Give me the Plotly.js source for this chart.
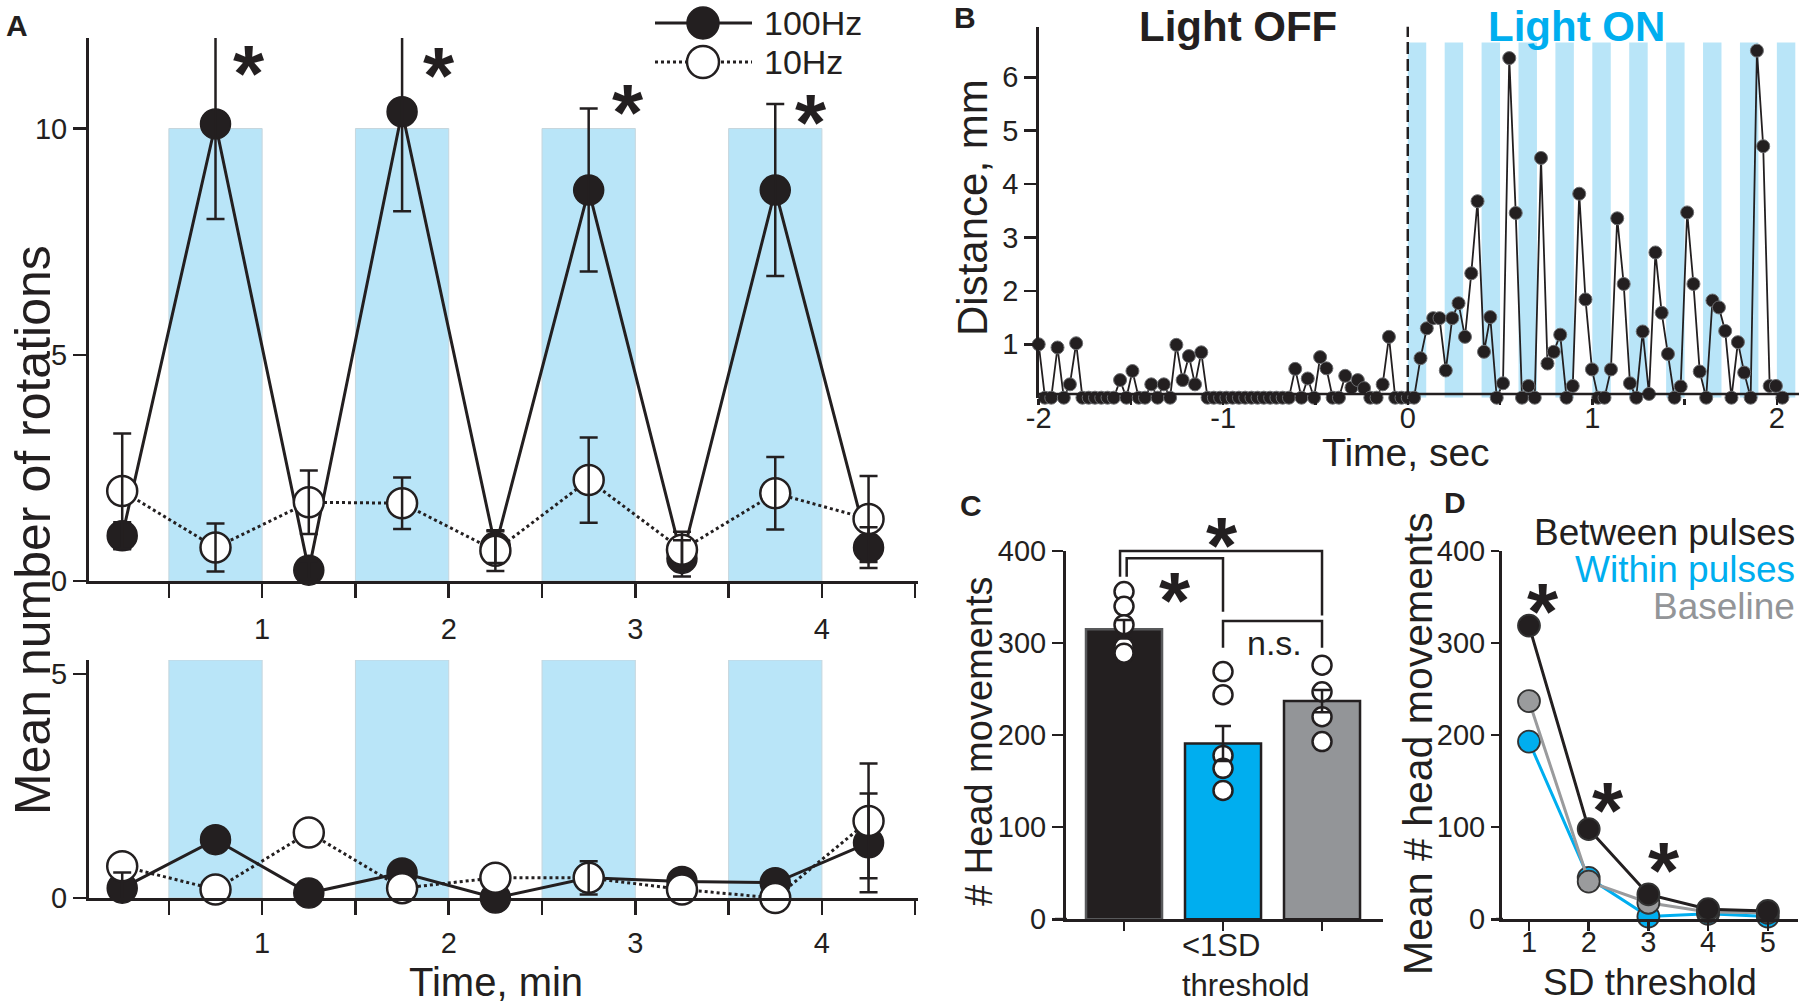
<!DOCTYPE html>
<html><head><meta charset="utf-8">
<script src="https://cdn.plot.ly/plotly-3.0.1.min.js"></script>
<style>html,body{margin:0;padding:0;background:#fff}#chart{width:1800px;height:1005px}</style>
</head><body><div id="chart"></div>
<script>
// ---------------- DATA ----------------
// Panel A: time bins (min)
const minutes = [0.25, 0.75, 1.25, 1.75, 2.25, 2.75, 3.25, 3.75, 4.25];
const minuteTicks = [0.5, 1, 1.5, 2, 2.5, 3, 3.5, 4, 4.5];
const minuteTickText = ['', '1', '', '2', '', '3', '', '4', ''];
// top: stimulation
const stim100 = [1.0, 10.1, 0.24, 10.37, 0.75, 8.64, 0.5, 8.64, 0.74];
const stim100Err = [0.3, 2.1, 0.2, 2.2, 0.35, 1.8, 0.4, 1.9, 0.45];
const stim10 = [1.99, 0.74, 1.74, 1.72, 0.67, 2.23, 0.69, 1.94, 1.37];
const stim10Err = [1.27, 0.53, 0.7, 0.57, 0.45, 0.94, 0.4, 0.8, 0.95];
// bottom: control (error bars hidden behind markers are left at 0)
const ctrl100 = [0.22, 1.3, 0.11, 0.56, 0, 0.45, 0.37, 0.34, 1.23];
const ctrl100Err = [0.35, 0, 0, 0, 0, 0, 0, 0, 1.1];
const ctrl10 = [0.71, 0.19, 1.46, 0.22, 0.45, 0.45, 0.19, 0, 1.72];
const ctrl10Err = [0, 0, 0, 0, 0, 0.37, 0, 0, 1.28];
// light periods (min)
const pulseStartsA = [0.5, 1.5, 2.5, 3.5];
const pulseLenA = 0.5;

// Panel B: head distance per video frame (sec, mm)
const bTimeOff = [-2.000,-1.966,-1.932,-1.898,-1.864,-1.831,-1.797,-1.763,-1.729,-1.695,
  -1.661,-1.627,-1.593,-1.559,-1.525,-1.492,-1.458,-1.424,-1.390,-1.356,
  -1.322,-1.288,-1.254,-1.220,-1.186,-1.153,-1.119,-1.085,-1.051,-1.017,
  -0.983,-0.949,-0.915,-0.881,-0.847,-0.814,-0.780,-0.746,-0.712,-0.678,
  -0.644,-0.610,-0.576,-0.542,-0.508,-0.475,-0.441,-0.407,-0.373,-0.339,
  -0.305,-0.271,-0.237,-0.203,-0.169,-0.136,-0.102,-0.068,-0.034,0.000];
const bDistOff = [1.0,0,0,0.94,0,0.25,1.02,0,0,0,
  0,0,0,0.33,0,0.5,0,0,0.25,0,
  0.25,0,0.99,0.33,0.78,0.25,0.85,0,0,0,
  0,0,0,0,0,0,0,0,0,0,
  0,0.54,0,0.36,0,0.76,0.55,0,0,0.41,
  0.19,0.33,0.18,0,0,0.25,1.14,0,0,0];
const bTimeOn = [0.034,0.069,0.103,0.138,0.172,0.206,0.241,0.275,0.310,0.344,
  0.378,0.413,0.447,0.482,0.516,0.550,0.585,0.619,0.654,0.688,
  0.722,0.757,0.791,0.826,0.860,0.894,0.929,0.963,0.998,1.032,
  1.066,1.101,1.135,1.170,1.204,1.238,1.273,1.307,1.342,1.376,
  1.410,1.445,1.479,1.514,1.548,1.582,1.617,1.651,1.686,1.720,
  1.754,1.789,1.823,1.858,1.892,1.926,1.961,1.995,2.030];
const bDistOn = [0,0.74,1.3,1.49,1.49,0.51,1.49,1.77,1.14,2.33,
  3.68,0.86,1.51,0,0.27,6.36,3.46,0,0.22,0,
  4.49,0.64,0.86,1.18,0,0.22,3.82,1.84,0.53,0,
  0,0.53,3.36,2.13,0.27,0,1.24,0.07,2.72,1.59,
  0.82,0,0.21,3.47,2.13,0.49,0,1.82,1.69,1.25,
  0,1.04,0.47,0,6.5,4.71,0.22,0.22,0];
const bTicks = [-2, -1.5, -1, -0.5, 0, 0.5, 1, 1.5, 2];
const bTickText = ['-2', '', '-1', '', '0', '', '1', '', '2'];
const pulseStartsB = [0, 0.2, 0.4, 0.6, 0.8, 1.0, 1.2, 1.4, 1.6, 1.8, 2.0];
const pulseLenB = 0.1;
const pulseTopB = 6.65;

// Panel C: <1SD threshold head movements
const cGroups = [0, 1, 2]; // Between pulses, Within pulses, Baseline
const cMeans = [315, 191, 237];
const cSem = [10, 19, 12];
const cDotsBetween = [356, 340, 320, 296, 289];
const cDotsWithin = [269, 244, 178, 164, 140];
const cDotsBaseline = [276, 247, 220, 193];

// Panel D: mean # head movements vs SD threshold
const sdThreshold = [1, 2, 3, 4, 5];
const dBetween = [319, 98, 27, 11, 9];
const dWithin = [193, 45, 3, 6, 3];
const dBaseline = [237, 41, 18, 8, 7];

// ---------------- STYLE ----------------
const FONT = 'Liberation Sans, Arial, Helvetica, sans-serif';
const INK = '#231f20';
const CYAN = '#00aeef';
const GREY = '#939598';
const PALE = '#b9e5f8';
const W = 1800, H = 1005;
const fx = v => v / W, fy = v => 1 - v / H;
// panel C/D vertical placement (px): value 0 at 919.3, 400 at 551
const C_Y0 = 919.3, C_PX = 368.3 / 400;
const yC = v => fy(C_Y0 - v * C_PX);

function axis(extra) {
  return Object.assign({
    showline: true, linecolor: INK, linewidth: 3, ticks: 'outside', tickcolor: INK,
    tickwidth: 2.5, showgrid: false, zeroline: false, fixedrange: true,
    tickfont: {family: FONT, size: 29, color: INK}
  }, extra);
}

const traces = [];
function lineMarkers(x, y, xa, ya, filled, dashed) {
  return {
    type: 'scatter', mode: 'lines+markers', x: x, y: y, xaxis: xa, yaxis: ya,
    line: {color: INK, width: 3, dash: dashed ? '3px,3px' : 'solid'},
    marker: {size: 30, color: filled ? INK : '#ffffff', line: {color: INK, width: filled ? 1.5 : 2.5}},
    cliponaxis: false, hoverinfo: 'skip'
  };
}
function errOnly(x, y, err, xa, ya, w) {
  const idx = err.map((e, i) => (e > 0 ? i : -1)).filter(i => i >= 0);
  return {
    type: 'scatter', mode: 'markers', x: idx.map(i => x[i]), y: idx.map(i => y[i]), xaxis: xa, yaxis: ya,
    marker: {size: 2, opacity: 0},
    error_y: {type: 'data', array: idx.map(i => err[i]), visible: true, color: INK, thickness: 2.5, width: w},
    cliponaxis: false, hoverinfo: 'skip'
  };
}
// A top
traces.push(lineMarkers(minutes, stim100, 'x', 'y', true, false));
traces.push(lineMarkers(minutes, stim10, 'x', 'y', false, true));
traces.push(errOnly(minutes, stim100, stim100Err, 'x', 'y', 9));
traces.push(errOnly(minutes, stim10, stim10Err, 'x', 'y', 9));
// A bottom
traces.push(lineMarkers(minutes, ctrl100, 'x2', 'y2', true, false));
traces.push(lineMarkers(minutes, ctrl10, 'x2', 'y2', false, true));
traces.push(errOnly(minutes, ctrl100, ctrl100Err, 'x2', 'y2', 9));
traces.push(errOnly(minutes, ctrl10, ctrl10Err, 'x2', 'y2', 9));
// B
traces.push({
  type: 'scatter', mode: 'lines+markers', x: bTimeOff.concat(bTimeOn), y: bDistOff.concat(bDistOn),
  xaxis: 'x3', yaxis: 'y3', line: {color: INK, width: 1.8},
  marker: {size: 13, color: INK, line: {color: '#6d6e71', width: 1}},
  cliponaxis: false, hoverinfo: 'skip'
});
// C
traces.push({
  type: 'bar', x: cGroups, y: cMeans, xaxis: 'x4', yaxis: 'y4', width: 0.768,
  marker: {color: [INK, CYAN, GREY], line: {color: ['#58595b', INK, INK], width: 2.5}},
  hoverinfo: 'skip'
});
[cDotsBetween, cDotsWithin, cDotsBaseline].forEach((arr, gi) => {
  traces.push({
    type: 'scatter', mode: 'markers', x: arr.map(() => cGroups[gi]), y: arr, xaxis: 'x4', yaxis: 'y4',
    marker: {size: 19, color: '#ffffff', line: {color: INK, width: 2.5}}, cliponaxis: false, hoverinfo: 'skip'
  });
});
traces.push(errOnly(cGroups, cMeans, cSem, 'x4', 'y4', 8));
// D
[[dWithin, CYAN], [dBaseline, '#9a9b9d'], [dBetween, INK]].forEach(([arr, col]) => {
  traces.push({
    type: 'scatter', mode: 'lines+markers', x: sdThreshold, y: arr, xaxis: 'x5', yaxis: 'y5',
    line: {color: col, width: 3}, marker: {size: 22, color: col, line: {color: '#333333', width: 1.8}},
    cliponaxis: false, hoverinfo: 'skip'
  });
});

// ---------------- SHAPES ----------------
const shapes = [];
pulseStartsA.forEach(p => {
  shapes.push({type: 'rect', xref: 'x', yref: 'y', x0: p, x1: p + pulseLenA, y0: 0, y1: 10,
    fillcolor: PALE, line: {color: '#c6d6dd', width: 1}, layer: 'below'});
  shapes.push({type: 'rect', xref: 'x2', yref: 'y2', x0: p, x1: p + pulseLenA, y0: 0, y1: 5.31,
    fillcolor: PALE, line: {color: '#c6d6dd', width: 1}, layer: 'below'});
});
pulseStartsB.forEach(p => {
  shapes.push({type: 'rect', xref: 'x3', yref: 'y3', x0: p, x1: p + pulseLenB, y0: 0, y1: pulseTopB,
    fillcolor: PALE, line: {width: 0}, layer: 'below'});
});
shapes.push({type: 'line', xref: 'x3', yref: 'y3', x0: 0, x1: 0, y0: 0.07, y1: 6.95,
  line: {color: INK, width: 2.5, dash: '12px,5px'}});
// B baseline (drawn slightly above zero, as in the source)
shapes.push({type: 'line', xref: 'x3', yref: 'y3', x0: -2.0, x1: 2.12, y0: 0.07, y1: 0.07,
  line: {color: INK, width: 2.5}});
// C significance brackets (x in category units, y converted from counts)
function bracket(pts) {
  return {type: 'path', xref: 'x4', yref: 'paper',
    path: pts.map((p, i) => (i ? 'L ' : 'M ') + p[0] + ',' + yC(p[1])).join(' '),
    line: {color: INK, width: 2.5}};
}
shapes.push(bracket([[-0.04, 372], [-0.04, 400], [2, 400], [2, 330]]));
shapes.push(bracket([[0.027, 372], [0.027, 392], [1, 392], [1, 334]]));
shapes.push(bracket([[1, 295], [1, 324], [2, 324], [2, 295]]));
// small axis overhangs
shapes.push({type: 'line', xref: 'paper', yref: 'paper', x0: fx(1055), x1: fx(1067), y0: fy(C_Y0), y1: fy(C_Y0), line: {color: INK, width: 3}});
shapes.push({type: 'line', xref: 'paper', yref: 'paper', x0: fx(1496), x1: fx(1503), y0: fy(C_Y0), y1: fy(C_Y0), line: {color: INK, width: 3}});
// A legend glyphs
shapes.push({type: 'line', xref: 'paper', yref: 'paper', x0: fx(655), x1: fx(752), y0: fy(23), y1: fy(23), line: {color: INK, width: 3}});
shapes.push({type: 'circle', xref: 'paper', yref: 'paper', x0: fx(687), x1: fx(719), y0: fy(39), y1: fy(7), fillcolor: INK, line: {color: INK, width: 1.5}});
shapes.push({type: 'line', xref: 'paper', yref: 'paper', x0: fx(655), x1: fx(752), y0: fy(62), y1: fy(62), line: {color: INK, width: 3, dash: '3px,3px'}});
shapes.push({type: 'circle', xref: 'paper', yref: 'paper', x0: fx(687), x1: fx(719), y0: fy(78), y1: fy(46), fillcolor: '#ffffff', line: {color: INK, width: 2.5}});

// ---------------- ANNOTATIONS ----------------
const ann = [];
function txt(t, x, y, size, opts) {
  ann.push(Object.assign({text: t, xref: 'paper', yref: 'paper', x: fx(x), y: fy(y), showarrow: false,
    xanchor: 'center', yanchor: 'middle', font: {family: FONT, size: size, color: INK}}, opts || {}));
}
const STAR = 80, STAR_SHIFT = -12;
function star(xa, ya, x, y) {
  ann.push({text: '<b>*</b>', xref: xa, yref: ya, x: x, y: y, showarrow: false, xanchor: 'center',
    yanchor: 'middle', yshift: STAR_SHIFT, font: {family: FONT, size: STAR, color: INK}});
}
txt('<b>A</b>', 17, 26, 30);
txt('<b>B</b>', 965, 18, 30);
txt('<b>C</b>', 971, 505, 30);
txt('<b>D</b>', 1455, 502, 30);
txt('Mean number of rotations', 33, 530, 50, {textangle: -90});
txt('Time, min', 496, 982, 40);
txt('100Hz', 762, 23, 34, {xanchor: 'left'});
txt('10Hz', 762, 62, 34, {xanchor: 'left'});
txt('<b>Light OFF</b>', 1238, 27, 42);
txt('<b>Light ON</b>', 1576, 27, 42, {font: {family: FONT, size: 42, color: CYAN}});
txt('Distance, mm', 972, 208, 42, {textangle: -90});
txt('Time, sec', 1406, 452, 39);
txt('# Head movements', 979, 741, 38, {textangle: -90});
txt('<1SD', 1180, 945, 31, {xanchor: 'left'});
txt('threshold', 1180, 985, 31, {xanchor: 'left'});
txt('Mean # head movements', 1418, 744, 41, {textangle: -90});
txt('SD threshold', 1650, 982, 37);
txt('Between pulses', 1797, 532, 37, {xanchor: 'right'});
txt('Within pulses', 1797, 569, 37, {xanchor: 'right', font: {family: FONT, size: 37, color: CYAN}});
txt('Baseline', 1797, 606, 37, {xanchor: 'right', font: {family: FONT, size: 37, color: GREY}});
star('x', 'y', 0.93, 11.49);
star('x', 'y', 1.95, 11.44);
star('x', 'y', 2.96, 10.61);
star('x', 'y', 3.94, 10.39);
star('x4', 'paper', 0.99, yC(419));
star('x4', 'paper', 0.515, yC(359.5));
ann.push({text: 'n.s.', xref: 'x4', yref: 'paper', x: 1.525, y: yC(300), showarrow: false, xanchor: 'center', yanchor: 'middle',
  font: {family: FONT, size: 34, color: INK}});
star('x5', 'y5', 1.24, 347);
star('x5', 'y5', 2.33, 131);
star('x5', 'y5', 3.26, 66);

// ---------------- LAYOUT ----------------
const layout = {
  width: W, height: H, margin: {l: 0, r: 0, t: 0, b: 0}, autosize: false,
  paper_bgcolor: '#ffffff', plot_bgcolor: 'rgba(0,0,0,0)', showlegend: false, hovermode: false,
  font: {family: FONT, color: INK},
  xaxis: axis({domain: [fx(89), fx(918)], range: [0.072, 4.515], anchor: 'y', tickvals: minuteTicks,
    ticktext: minuteTickText, ticklen: 14, ticklabelstandoff: 6}),
  yaxis: axis({domain: [fy(581), fy(38)], range: [0, 12], anchor: 'x', tickvals: [0, 5, 10], ticklen: 13}),
  xaxis2: axis({domain: [fx(89), fx(918)], range: [0.072, 4.515], anchor: 'y2', tickvals: minuteTicks,
    ticktext: minuteTickText, ticklen: 14, ticklabelstandoff: 3}),
  yaxis2: axis({domain: [fy(898), fy(660)], range: [0, 5.31], anchor: 'x2', tickvals: [0, 5], ticklen: 13}),
  xaxis3: axis({domain: [fx(1038.7), fx(1799)], range: [-2.0, 2.12], anchor: 'y3', tickvals: bTicks,
    ticktext: bTickText, ticklen: 6, linewidth: 0, showline: false, ticklabelstandoff: -12}),
  yaxis3: axis({domain: [fy(397.7), fy(26.6)], range: [0, 6.95], anchor: 'x3', tickvals: [1, 2, 3, 4, 5, 6],
    ticklen: 12, linewidth: 2.5}),
  xaxis4: axis({domain: [fx(1066), fx(1383)], range: [-0.586, 2.616], anchor: 'y4', tickvals: cGroups,
    ticktext: ['', '', ''], ticklen: 9}),
  yaxis4: axis({domain: [fy(C_Y0), fy(551)], range: [0, 400], anchor: 'x4', tickvals: [0, 100, 200, 300, 400], ticklen: 11}),
  xaxis5: axis({domain: [fx(1502), fx(1798)], range: [0.548, 5.506], anchor: 'y5', tickvals: sdThreshold, ticklen: 9,
    ticklabelstandoff: -14}),
  yaxis5: axis({domain: [fy(C_Y0), fy(551)], range: [0, 400], anchor: 'x5', tickvals: [0, 100, 200, 300, 400], ticklen: 8}),
  shapes: shapes,
  annotations: ann
};

Plotly.newPlot('chart', traces, layout, {staticPlot: true, displayModeBar: false});
</script></body></html>
